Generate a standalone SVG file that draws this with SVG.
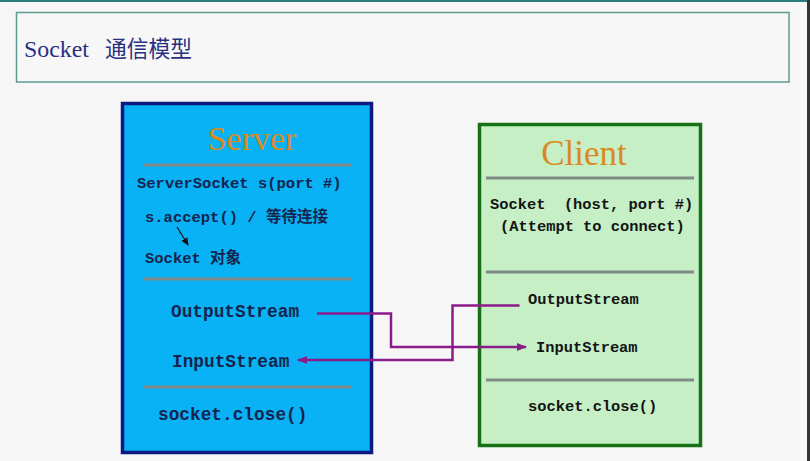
<svg xmlns="http://www.w3.org/2000/svg" width="810" height="461" viewBox="0 0 810 461">
<style>
.mono{font-family:"Liberation Mono","Noto Sans CJK SC",monospace;font-weight:bold;white-space:pre}
.srv{fill:#14244e;font-size:15.5px}
.srv2{fill:#14244e;font-size:17.8px}
.cli{fill:#141414;font-size:15.4px}
.head{font-family:"Liberation Serif",serif;fill:#d98a1e}
.sep{stroke:#7f8a86;stroke-width:3}
.conn{fill:none;stroke:#8a1c8a;stroke-width:2.5}
</style>
<defs>
<marker id="arrP" markerWidth="10" markerHeight="8" refX="9" refY="4" orient="auto" markerUnits="userSpaceOnUse">
<path d="M0,0 L10,4 L0,8 Z" fill="#8a1c8a"/>
</marker>
<marker id="arrK" markerWidth="8" markerHeight="7" refX="7" refY="3.5" orient="auto" markerUnits="userSpaceOnUse">
<path d="M0,0 L8,3.5 L0,7 Z" fill="#111"/>
</marker>
</defs>
<rect x="0" y="0" width="810" height="461" fill="#f6f6f6"/>
<rect x="0" y="0" width="810" height="2" fill="#2b7d7d"/>
<rect x="807" y="0" width="3" height="461" fill="#333"/>
<g id="title">
<rect x="16.5" y="12.5" width="772.5" height="69.5" fill="#f7f7f7" stroke="#5f9a90" stroke-width="1.5"/>
<text y="57" font-family="Liberation Serif,'Noto Sans CJK SC',serif" font-size="23" fill="#2a3080"><tspan x="24" textLength="65" lengthAdjust="spacingAndGlyphs">Socket</tspan><tspan x="105" textLength="87" lengthAdjust="spacingAndGlyphs">通信模型</tspan></text>
</g>
<g id="server">
<rect x="122.5" y="103.5" width="249" height="349" fill="#08b2f4" stroke="#0a1a80" stroke-width="3.5"/>
<text class="head" x="252" y="150" font-size="34" text-anchor="middle">Server</text>
<line class="sep" x1="144" y1="165" x2="352" y2="165"/>
<text class="mono srv" x="137" y="188">ServerSocket s(port #)</text>
<text class="mono srv" x="145" y="221.5">s.accept() / 等待连接</text>
<line x1="177" y1="227" x2="188" y2="245" stroke="#111" stroke-width="1.2" marker-end="url(#arrK)"/>
<text class="mono srv" x="145" y="263">Socket 对象</text>
<line class="sep" x1="144" y1="279" x2="352" y2="279"/>
<text class="mono srv2" x="171" y="316.5">OutputStream</text>
<text class="mono srv2" x="172" y="366.5">InputStream</text>
<line class="sep" x1="144" y1="387" x2="352" y2="387"/>
<text class="mono srv2" x="158" y="420">socket.close()</text>
</g>
<g id="client">
<rect x="479.5" y="124.5" width="221" height="321" fill="#c6efc6" stroke="#167016" stroke-width="3.5"/>
<text class="head" x="584" y="165" font-size="35" text-anchor="middle">Client</text>
<line class="sep" x1="486" y1="178" x2="694" y2="178"/>
<text class="mono cli" x="490" y="208.5" xml:space="preserve">Socket  (host, port #)</text>
<text class="mono cli" x="500" y="230.5">(Attempt to connect)</text>
<line class="sep" x1="486" y1="272" x2="694" y2="272"/>
<text class="mono cli" x="528" y="303.5">OutputStream</text>
<text class="mono cli" x="536" y="352">InputStream</text>
<line class="sep" x1="486" y1="380" x2="694" y2="380"/>
<text class="mono cli" x="528" y="411">socket.close()</text>
</g>
<g id="connectors">
<path class="conn" d="M317,313.5 H391 V347 H526" marker-end="url(#arrP)"/>
<path class="conn" d="M519.5,305.5 H452.5 V360 H298" marker-end="url(#arrP)"/>
</g>
</svg>
